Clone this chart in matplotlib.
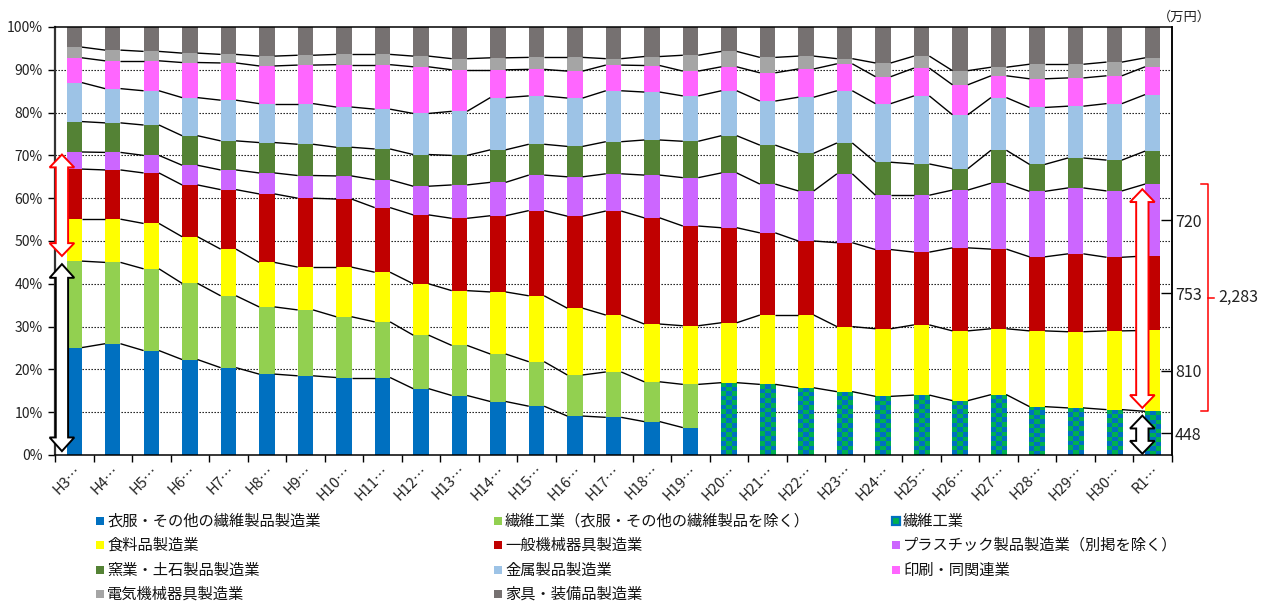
import numpy as np
import matplotlib
matplotlib.use("Agg")
import matplotlib.pyplot as plt
from matplotlib.patches import Polygon, Rectangle
import matplotlib.transforms as mtransforms

plt.rcParams['font.family'] = ['Noto Sans CJK JP', 'DejaVu Sans']

years = ['H3', 'H4', 'H5', 'H6', 'H7', 'H8', 'H9', 'H10', 'H11', 'H12', 'H13', 'H14',
         'H15', 'H16', 'H17', 'H18', 'H19', 'H20', 'H21', 'H22', 'H23', 'H24', 'H25',
         'H26', 'H27', 'H28', 'H29', 'H30', 'R1']

names = ['衣服・その他の繊維製品製造業', '繊維工業（衣服・その他の繊維製品を除く）', '繊維工業',
         '食料品製造業', '一般機械器具製造業', 'プラスチック製品製造業（別掲を除く）',
         '窯業・土石製品製造業', '金属製品製造業', '印刷・同関連業',
         '電気機械器具製造業', '家具・装備品製造業']

clothing = [25.1, 26.0, 24.4, 22.3, 20.4, 18.9, 18.5, 18.1, 18.1, 15.5, 13.9, 12.5, 11.4, 9.1,
            8.8, 7.8, 6.4, 0, 0, 0, 0, 0, 0, 0, 0, 0, 0, 0, 0]
textile_ex = [20.2, 19.0, 19.1, 17.8, 16.8, 15.7, 15.4, 14.2, 13.0, 12.5, 11.7, 11.1, 10.4, 9.6,
              10.6, 9.3, 10.1, 0, 0, 0, 0, 0, 0, 0, 0, 0, 0, 0, 0]
textile = [0] * 17 + [16.9, 16.5, 15.7, 14.8, 13.7, 14.0, 12.7, 14.1, 11.3, 11.0, 10.6, 10.2]
food = [9.8, 10.1, 10.6, 10.9, 10.9, 10.4, 10.0, 11.6, 11.6, 12.0, 12.8, 14.5, 15.4, 15.6, 13.3,
        13.5, 13.7, 14.0, 16.2, 17.0, 15.2, 15.8, 16.4, 16.3, 15.4, 17.7, 17.8, 18.4, 18.9]
machinery = [11.7, 11.5, 11.8, 12.1, 13.9, 16.0, 16.1, 15.9, 15.1, 16.1, 16.9, 17.8, 19.9, 21.5,
             24.3, 24.8, 23.3, 22.2, 19.2, 17.3, 19.6, 18.5, 17.0, 19.4, 18.6, 17.3, 18.2, 17.2, 17.4]
plastic = [4.0, 4.1, 4.1, 4.6, 4.6, 4.9, 5.3, 5.4, 6.5, 6.7, 7.8, 7.8, 8.3, 9.2, 8.7, 10.0, 11.3,
           12.8, 11.4, 11.7, 16.1, 12.7, 13.3, 13.5, 15.4, 15.3, 15.4, 15.5, 16.8]
ceramic = [7.1, 6.9, 7.1, 6.9, 6.8, 7.1, 7.3, 6.7, 7.2, 7.4, 6.9, 7.6, 7.2, 7.1, 7.5, 8.2, 8.5,
           8.7, 9.1, 8.8, 7.2, 7.7, 7.3, 5.0, 7.7, 6.3, 7.0, 7.2, 7.7]
metal = [9.1, 8.0, 8.0, 8.9, 9.5, 9.1, 9.5, 9.4, 9.3, 9.6, 10.3, 12.2, 11.3, 11.3, 11.9, 11.2, 10.6,
         10.5, 10.3, 13.1, 12.2, 13.7, 15.9, 12.6, 12.3, 13.3, 12.1, 13.2, 13.2]
printing = [5.8, 6.5, 7.0, 8.2, 8.7, 8.8, 9.0, 9.9, 10.4, 10.9, 9.7, 6.5, 6.2, 6.3, 6.0, 6.2, 5.8,
            5.6, 6.6, 6.6, 6.3, 6.3, 6.5, 7.0, 5.1, 6.7, 6.6, 6.5, 6.5]
electric = [2.5, 2.5, 2.2, 2.2, 2.0, 2.3, 2.3, 2.4, 2.4, 2.5, 2.6, 2.8, 2.8, 3.2, 1.5, 2.1, 3.7,
            3.6, 3.6, 3.0, 1.2, 3.2, 2.8, 3.3, 2.0, 3.4, 3.2, 3.2, 2.1]
furniture = [4.7, 5.4, 5.7, 6.1, 6.4, 6.8, 6.6, 6.4, 6.4, 6.8, 7.4, 7.2, 7.1, 7.1, 7.4, 6.9, 6.6,
             5.7, 7.1, 6.8, 7.4, 8.4, 6.8, 10.2, 9.4, 8.7, 8.7, 8.2, 7.2]

# R1 amounts (万円) for bottom four segments, and total
r1_amount_labels = ['448', '810', '753', '720']
r1_total_label = '2,283'

colors = ['#0070C0', '#92D050', '#00B050', '#FFFF00', '#C00000', '#CC66FF',
          '#548235', '#9DC3E6', '#FF66FF', '#A5A5A5', '#767171']
checker_alt = '#0070C0'

series = [clothing, textile_ex, textile, food, machinery, plastic, ceramic, metal,
          printing, electric, furniture]
S = np.array(series, dtype=float)
n = S.shape[1]
x = np.arange(n)
bw = 0.4

W, H = 1269, 602
fig = plt.figure(figsize=(W / 100, H / 100), dpi=100)
ax = fig.add_axes([55 / W, 1 - 455 / H, (1172 - 55) / W, (455 - 27) / H])
ax.set_xlim(-0.5, n - 0.5)
ax.set_ylim(0, 100)

bottoms = np.zeros(n)
tops_all = []
for i, vals in enumerate(S):
    if i == 2:
        # checkered bars
        for j in range(n):
            if vals[j] > 0:
                h_px = vals[j] * 4.286
                nr = max(1, int(round(h_px / 4.6)))
                nc = 3
                c1 = np.array(matplotlib.colors.to_rgb(colors[2]))
                c2 = np.array(matplotlib.colors.to_rgb(checker_alt))
                img = np.zeros((nr, nc, 3))
                for r in range(nr):
                    for c in range(nc):
                        img[r, c] = c1 if (r + c) % 2 == 0 else c2
                ax.imshow(img, extent=(x[j] - bw / 2, x[j] + bw / 2, bottoms[j], bottoms[j] + vals[j]),
                          aspect='auto', interpolation='nearest', zorder=2)
    else:
        ax.bar(x, vals, bw, bottom=bottoms, color=colors[i], zorder=2, linewidth=0)
    bottoms = bottoms + vals
    tops_all.append(bottoms.copy())

ax.set_xlim(-0.5, n - 0.5)
ax.set_ylim(0, 100)

# series connector lines
for i in range(len(series) - 1):
    tops = tops_all[i]
    vals = S[i]
    for j in range(n - 1):
        if vals[j + 1] > 0:
            ax.plot([x[j] + bw / 2, x[j + 1] - bw / 2], [tops[j], tops[j + 1]],
                    color='black', lw=1.0, zorder=3, solid_capstyle='butt')

# axes styling
ax.set_yticks(np.arange(0, 101, 10))
ax.set_yticklabels([f'{v}%' for v in range(0, 101, 10)], fontsize=10, color='#222222')
ax.set_xticks(x)
ax.set_xticklabels([f'{y}…' for y in years], rotation=45, ha='right', va='top',
                   rotation_mode='anchor', fontsize=10.5, color='#222222')
offset = mtransforms.ScaledTranslation(9 / 100, 0, fig.dpi_scale_trans)
for lbl in ax.get_xticklabels():
    lbl.set_transform(lbl.get_transform() + offset)
ax.set_xticks(np.arange(-0.5, n, 1), minor=True)
ax.tick_params(axis='x', which='major', length=0, pad=6)
ax.tick_params(axis='x', which='minor', length=5, direction='out', width=1)
ax.tick_params(axis='y', length=5, direction='out', width=1, pad=4)
for yv in range(10, 100, 10):
    ax.axhline(yv, color='black', lw=0.8, linestyle=(0, (1.2, 1.5)), zorder=1)
for sp in ['top', 'bottom', 'right']:
    ax.spines[sp].set_color('black')
    ax.spines[sp].set_linewidth(1.1)
ax.spines['left'].set_color('#333333')
ax.spines['left'].set_linewidth(1.6)

# right axis with R1 amounts
ax2 = ax.twinx()
ax2.set_ylim(0, 100)
r1_tops = np.array([t[-1] for t in tops_all])
r1_vals = S[:, -1]
mids = []
seg_idx = [2, 3, 4, 5]
for k in seg_idx:
    lo = r1_tops[k] - r1_vals[k]
    mids.append(lo + r1_vals[k] / 2)
ax2.set_yticks(mids)
ax2.set_yticklabels(r1_amount_labels, fontsize=11.5, color='#222222')
ax2.tick_params(axis='y', direction='in', length=8, width=1, pad=2)
for sp in ['left', 'top', 'bottom']:
    ax2.spines[sp].set_visible(False)
ax2.spines['right'].set_linewidth(1.1)


def dbl_arrow(axx, cx, y0, y1, hw, sw, hl, ec):
    pts = [(cx, y1), (cx + hw, y1 - hl), (cx + sw, y1 - hl), (cx + sw, y0 + hl),
           (cx + hw, y0 + hl), (cx, y0), (cx - hw, y0 + hl), (cx - sw, y0 + hl),
           (cx - sw, y1 - hl), (cx - hw, y1 - hl)]
    p = Polygon(pts, closed=True, facecolor='white', edgecolor=ec, lw=1.4, zorder=6,
                clip_on=False, joinstyle='miter')
    axx.add_patch(p)


hw, sw = 0.32, 0.16
# left arrows on first bar
b_top0 = tops_all[1][0]
p_top0 = tops_all[5][0]
dbl_arrow(ax, x[0] - 0.32, b_top0 + 1.2, p_top0 - 0.6, hw, sw, 3.0, 'red')
dbl_arrow(ax, x[0] - 0.32, 0.9, b_top0 - 0.7, hw, sw, 3.2, 'black')
# right arrows next to last bar
t_top = r1_tops[2]
p_top = r1_tops[5]
dbl_arrow(ax, x[-1] - 0.27, t_top + 0.8, p_top - 1.2, hw, sw, 3.0, 'red')
dbl_arrow(ax, x[-1] - 0.27, 0.3, t_top - 1.0, hw, sw, 3.0, 'black')

# red bracket
xb = x[-1] + 1.43
ax.plot([xb - 0.18, xb, xb, xb - 0.18], [p_top, p_top, t_top, t_top], color='red', lw=1.1,
        clip_on=False, zorder=6)
ymid = (p_top + t_top) / 2
ax.plot([xb, xb + 0.17], [ymid, ymid], color='red', lw=1.1, clip_on=False, zorder=6)
ax.text(xb + 0.28, ymid, r1_total_label, fontsize=11.5, va='center', ha='left',
        color='#222222', clip_on=False)

fig.text(1184 / W, 1 - 17 / H, '（万円）', fontsize=9.5, ha='center', va='center', color='#222222')

# legend (row-wise, 3 columns)
col_sq = [100, 498, 896]
row_y = [521, 545, 570, 594]
for k, name in enumerate(names):
    r, c = divmod(k, 3)
    cx, cy = col_sq[c], row_y[r]
    sq = 8.5
    if k == 2:
        fig.patches.append(Rectangle(((cx - sq / 2) / W, 1 - (cy + sq / 2) / H), sq / W, sq / H,
                                     transform=fig.transFigure, facecolor=colors[2],
                                     edgecolor=checker_alt, lw=1.6))
    else:
        fig.patches.append(Rectangle(((cx - sq / 2) / W, 1 - (cy + sq / 2) / H), sq / W, sq / H,
                                     transform=fig.transFigure, facecolor=colors[k], lw=0))
    fig.text((cx + 7) / W, 1 - cy / H, name, fontsize=11, ha='left', va='center', color='#111111')

fig.savefig('out.png', dpi=100)
